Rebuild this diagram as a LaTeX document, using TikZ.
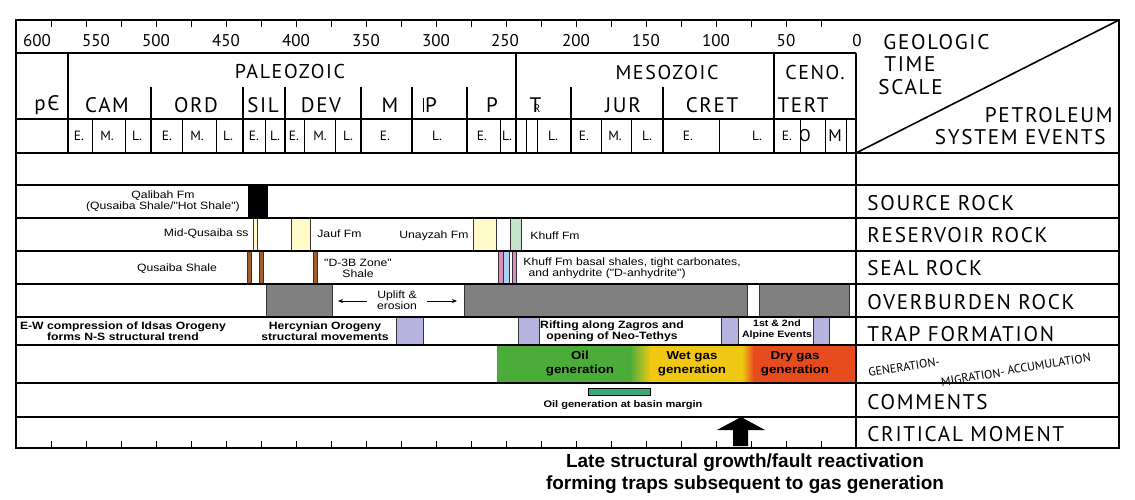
\documentclass[tikz,border=0pt]{standalone}
\usepackage{fontspec}
\setmainfont{PT Sans}
\newfontfamily\spaced[LetterSpace=8]{PT Sans}
\newfontfamily\arial[FakeStretch=1.15]{Liberation Sans}
\newfontfamily\arialw{Liberation Sans}
\usetikzlibrary{arrows.meta}

\definecolor{greybox}{RGB}{128,128,128}
\definecolor{lavender}{RGB}{182,180,222}
\definecolor{paleyellow}{RGB}{255,250,200}
\definecolor{palegreen}{RGB}{196,228,204}
\definecolor{shalebrown}{RGB}{160,95,45}
\definecolor{sealpink}{RGB}{222,140,190}
\definecolor{sealblue}{RGB}{170,210,240}
\definecolor{oilgreen}{RGB}{76,172,58}
\definecolor{wetyellow}{RGB}{240,200,20}
\definecolor{dryred}{RGB}{230,75,30}
\definecolor{margingreen}{RGB}{60,170,120}

\tikzset{
  age/.style={inner sep=0pt,font=\fontsize{8.5}{9}\selectfont},
  era/.style={inner sep=0pt,font=\spaced\fontsize{10}{10}\selectfont},
  period/.style={inner sep=0pt,font=\spaced\fontsize{10.5}{10}\selectfont},
  epoch/.style={inner sep=0pt,font=\fontsize{6.7}{7}\selectfont},
  event/.style={anchor=west,inner sep=0pt,font=\spaced\fontsize{10.6}{10}\selectfont},
  gma/.style={inner sep=0pt,rotate=9,font=\fontsize{6}{6}\selectfont},
  lbl/.style={inner sep=0pt,align=center,font=\arial\fontsize{5.3}{5.5}\selectfont},
  blbl/.style={inner sep=0pt,align=center,font=\arial\bfseries\fontsize{5.3}{5.5}\selectfont},
  genlbl/.style={inner sep=0pt,align=center,font=\arial\bfseries\fontsize{5.8}{7}\selectfont},
  bar/.style={draw=black!80,line width=0.3pt},
  grid/.style={line width=0.8pt},
  thin grid/.style={line width=0.5pt},
}

\begin{document}
\begin{tikzpicture}[x=0.5pt,y=-0.5pt]
\useasboundingbox (0,0) rectangle (1135,499);

% coloured bars
\fill[black] (248,185) rectangle (268,218);
\draw[bar,fill=paleyellow] (253,218) rectangle (257,251);
\draw[bar,fill=paleyellow] (291,218) rectangle (310,251);
\draw[bar,fill=paleyellow] (473,218) rectangle (496,251);
\draw[bar,fill=palegreen] (510,218) rectangle (521,251);
\draw[bar,fill=shalebrown] (247,251) rectangle (251,284);
\draw[bar,fill=shalebrown] (259,251) rectangle (263,284);
\draw[bar,fill=shalebrown] (313,251) rectangle (317,284);
\draw[bar,fill=sealpink] (498,251) rectangle (503,284);
\draw[bar,fill=sealblue] (503,251) rectangle (509,284);
\draw[bar,fill=sealpink] (512,251) rectangle (516,284);
\draw[bar,fill=greybox] (266,284) rectangle (332,317);
\draw[bar,fill=greybox] (464,284) rectangle (747,317);
\draw[bar,fill=greybox] (759,284) rectangle (849,317);
\draw[bar,fill=lavender] (396,317) rectangle (423,345);
\draw[bar,fill=lavender] (518,317) rectangle (539,345);
\draw[bar,fill=lavender] (721,317) rectangle (738,345);
\draw[bar,fill=lavender] (813,317) rectangle (829,345);
\fill[oilgreen] (497,345) rectangle (631,383);
\shade[left color=oilgreen,right color=wetyellow] (630,345) rectangle (651,383);
\fill[wetyellow] (650,345) rectangle (743,383);
\shade[left color=wetyellow,right color=dryred] (742,345) rectangle (754,383);
\fill[dryred] (753,345) rectangle (856,383);
\draw[line width=0.4pt,fill=margingreen] (588,388) rectangle (650,395);
\fill[black] (741,417) -- (765,430) -- (748,430) -- (748,446) -- (733,446)
  -- (733,430) -- (717,430) -- cycle;

% frame and rows
\draw[line width=1pt] (16,20) rectangle (1119,448);
\draw[grid] (16,53) -- (856,53);
\draw[grid] (16,119) -- (856,119);
\foreach \y in {153,185,218,251,284,317,345,383,417}
  \draw[grid] (16,\y) -- (1119,\y);
\draw[grid] (856,53) -- (856,448);
\draw[grid] (856,153) -- (1119,20);
\foreach \x in {68,516,774}
  \draw[grid] (\x,53) -- (\x,153);
\foreach \x in {150.7,243,285,360.7,412,466.7,570.7,662.7}
  \draw[grid] (\x,87) -- (\x,153);
\foreach \x in {92.7,125,182.7,216,265.7,304,335,500,526,537.7,601,631.7,719.3,800,825,846}
  \draw[thin grid] (\x,119) -- (\x,153);
\foreach \k in {1,...,23} {
  \draw[thin grid] (856-35*\k,20) -- ++(0,7);
  \draw[thin grid] (856-35*\k,448) -- ++(0,-7);
}

% time scale
\node (a600) at (37,41) [age] {600};
\node (a550) at (96,41) [age] {550};
\node (a500) at (156,41) [age] {500};
\node (a450) at (226,41) [age] {450};
\node (a400) at (296,41) [age] {400};
\node (a350) at (366,41) [age] {350};
\node (a300) at (436,41) [age] {300};
\node (a250) at (505,41) [age] {250};
\node (a200) at (576,41) [age] {200};
\node (a150) at (646,41) [age] {150};
\node (a100) at (716,41) [age] {100};
\node (a50) at (786,41) [age] {50};
\node (a0) at (857,41) [age] {0};

\node (PAL) at (290,71) [era] {PALEOZOIC};
\node (MES) at (667,72) [era] {MESOZOIC};
\node (CEN) at (815,72) [era] {CENO.};

\node (pC) at (47,105) [period] {pЄ};
\node (CAM) at (107,105) [period] {CAM};
\node (ORD) at (196,105) [period] {ORD};
\node (SIL) at (263,105) [period] {SIL};
\node (DEV) at (321,105) [period] {DEV};
\node (MIS) at (390,105) [period] {M};
\node (PEN) at (430,105) [period] {\rule{0.6pt}{7.3pt}\kern0.3pt P};
\node (PER) at (492,105) [period] {P};
\node (TRI) at (535,105) [period,font=\fontsize{10.5}{10}\selectfont] {T\kern-0.36em{\fontsize{5.5}{5}\selectfont R}};
\node (JUR) at (623,105) [period] {JUR};
\node (CRE) at (712,105) [period] {CRET};
\node (TER) at (803,105) [period] {TERT};

\foreach \x/\t [count=\i] in {79/E.,107/M.,137/L.,167/E.,197/M.,228/L.,254/E.,275/L.,
    294/E.,320/M.,348/L.,385/E.,437/L.,482/E.,507/L.,553/L.,584/E.,615/M.,647/L.,
    688/E.,757/L.,787/E.}
  \node (ep\i) at (\x,136) [epoch] {\t};
\node (epO) at (805,136) [epoch,font=\fontsize{8.5}{9}\selectfont] {O};
\node (epM) at (835,136) [epoch,font=\fontsize{8.5}{9}\selectfont] {M};

% right column
\node (GEO) at (883,42) [event] {GEOLOGIC};
\node (TIME) at (884,64) [event] {TIME};
\node (SCALE) at (878,87) [event] {SCALE};
\node (PET) at (1113,115) [event,anchor=east] {PETROLEUM};
\node (SYS) at (1106,137) [event,anchor=east] {SYSTEM EVENTS};
\node (SRC) at (867,203) [event] {SOURCE ROCK};
\node (RES) at (867,235) [event] {RESERVOIR ROCK};
\node (SEAL) at (867,268) [event] {SEAL ROCK};
\node (OVB) at (867,302) [event] {OVERBURDEN ROCK};
\node (TRAP) at (867,334) [event] {TRAP FORMATION};
\node (GEN) at (904,367) [gma] {GENERATION-};
\node (MIG) at (973,377) [gma] {MIGRATION-};
\node (ACC) at (1049,364) [gma] {ACCUMULATION};
\node (COM) at (867,402) [event] {COMMENTS};
\node (CRIT) at (867,434) [event] {CRITICAL MOMENT};

% labels
\node (qalibah) at (163,201) [lbl] {Qalibah Fm\\(Qusaiba Shale/"Hot Shale")};
\node (midq) at (249,234) [lbl,anchor=east] {Mid-Qusaiba ss};
\node (jauf) at (317,234) [lbl,anchor=west] {Jauf Fm};
\node (unayzah) at (399,236) [lbl,anchor=west] {Unayzah Fm};
\node (khuff) at (530,236) [lbl,anchor=west] {Khuff Fm};
\node (qusaiba) at (177,269) [lbl] {Qusaiba Shale};
\node (d3b) at (358,268) [lbl] {"D-3B Zone"\\Shale};
\node (khuffseal) at (523,268) [lbl,anchor=west,align=left] {Khuff Fm basal shales, tight carbonates,\\\ \,and anhydrite ("D-anhydrite")};
\node (uplift) at (397,300) [lbl,inner xsep=5pt] {Uplift \&\\erosion};
\coordinate (upL) at (338,301);
\coordinate (upR) at (457,301);
\draw[-{Stealth[length=2.5pt,width=2pt]},line width=0.4pt] (uplift.west |- upL) -- (upL);
\draw[-{Stealth[length=2.5pt,width=2pt]},line width=0.4pt] (uplift.east |- upR) -- (upR);
\node (idsas) at (123,331) [blbl] {E-W compression of Idsas Orogeny\\forms N-S structural trend};
\node (hercyn) at (325,331) [blbl] {Hercynian Orogeny\\structural movements};
\node (zagros) at (612,331) [blbl] {Rifting along Zagros and\\opening of Neo-Tethys};
\node (alpine) at (777,330) [blbl,font=\arial\bfseries\fontsize{4.6}{5.6}\selectfont] {1st \& 2nd\\Alpine Events};
\node (oil) at (580,364) [genlbl] {Oil\\generation};
\node (wet) at (692,364) [genlbl] {Wet gas\\generation};
\node (dry) at (795,364) [genlbl] {Dry gas\\generation};
\node (margin) at (623,405) [blbl,font=\arial\bfseries\fontsize{4.8}{5}\selectfont] {Oil generation at basin margin};
\node (late) at (745,474) [inner sep=0pt,align=center,font=\arialw\bfseries\fontsize{9.5}{11}\selectfont]
  {Late structural growth/fault reactivation\\forming traps subsequent to gas generation};
\end{tikzpicture}
\end{document}
